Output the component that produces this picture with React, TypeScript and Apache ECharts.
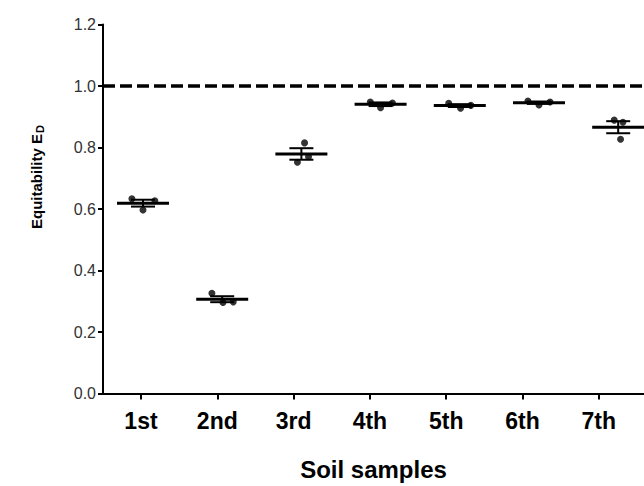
import React, { useEffect, useRef } from "react";
import * as echarts from "echarts";

const CATEGORIES = ["1st", "2nd", "3rd", "4th", "5th", "6th", "7th"];
const Y_TICKS = [0, 0.2, 0.4, 0.6, 0.8, 1.0, 1.2];
const REFERENCE_LINE = 1.0;

// replicate values per soil sample (3 each)
const S1 = [0.633, 0.597, 0.627];
const S2 = [0.326, 0.296, 0.298];
const S3 = [0.815, 0.752, 0.77];
const S4 = [0.948, 0.929, 0.945];
const S5 = [0.944, 0.928, 0.937];
const S6 = [0.951, 0.938, 0.948];
const S7 = [0.889, 0.882, 0.827];
const SAMPLES = [S1, S2, S3, S4, S5, S6, S7];

// horizontal scatter spread of replicates (category units)
const JITTER = [
  [-0.14, 0, 0.15],
  [-0.13, 0.01, 0.14],
  [0.04, -0.05, 0.09],
  [-0.13, 0, 0.15],
  [-0.14, 0.01, 0.14],
  [-0.14, 0, 0.14],
  [-0.05, 0.06, 0.03],
];

const FONT = "Liberation Sans, Arial, sans-serif";

function meanOf(a: number[]) {
  return a.reduce((s, v) => s + v, 0) / a.length;
}
function semOf(a: number[]) {
  const m = meanOf(a);
  const v = a.reduce((s, x) => s + (x - m) * (x - m), 0) / (a.length - 1);
  return Math.sqrt(v) / Math.sqrt(a.length);
}

export default function App() {
  const ref = useRef<HTMLDivElement>(null);
  useEffect(() => {
    if (!ref.current) return;
    const chart = echarts.init(ref.current, null, { renderer: "svg" });

    const points: number[][] = [];
    SAMPLES.forEach((arr, i) => {
      arr.forEach((v, j) => points.push([i + 1 + JITTER[i][j], v]));
    });
    const summary = SAMPLES.map((arr, i) => [i + 1, meanOf(arr), semOf(arr)]);

    chart.setOption({
      animation: false,
      backgroundColor: "#fff",
      grid: {
        left: 103,
        right: 0,
        top: 24.5,
        bottom: 92.5,
        containLabel: false,
        outerBoundsMode: "none",
      },
      xAxis: [
        {
          type: "value",
          min: 0.502,
          max: 7.592,
          position: "bottom",
          name: "Soil samples",
          nameLocation: "middle",
          nameGap: 64,
          nameTextStyle: {
            fontFamily: FONT,
            fontWeight: "bold",
            fontSize: 24,
            color: "#000",
          },
          axisLine: { show: true, lineStyle: { color: "#000", width: 2 } },
          axisTick: {
            show: true,
            customValues: [1, 2, 3, 4, 5, 6, 7],
            length: 6,
            lineStyle: { color: "#000", width: 2 },
          },
          axisLabel: {
            customValues: [1, 2, 3, 4, 5, 6, 7],
            formatter: (v: number) => CATEGORIES[Math.round(v) - 1] ?? "",
            fontFamily: FONT,
            fontWeight: "bold",
            fontSize: 23,
            color: "#000",
            margin: 16,
          },
          splitLine: { show: false },
        },
        {
          type: "value",
          min: 0.495,
          max: 7.326,
          show: false,
          splitLine: { show: false },
        },
      ],
      yAxis: {
        type: "value",
        min: Y_TICKS[0],
        max: Y_TICKS[Y_TICKS.length - 1],
        interval: 0.2,
        name: "{a|Equitability E}{b|D}",
        nameLocation: "middle",
        nameGap: 58,
        nameTextStyle: {
          fontFamily: FONT,
          fontWeight: "bold",
          fontSize: 15,
          color: "#000",
          padding: [0, 0, 0, 64],
          rich: {
            a: { fontFamily: FONT, fontWeight: "bold", fontSize: 15, color: "#000" },
            b: {
              fontFamily: FONT,
              fontWeight: "bold",
              fontSize: 11,
              color: "#000",
              padding: [7, 0, 0, 1],
            },
          },
        },
        axisLine: { show: true, lineStyle: { color: "#000", width: 2 } },
        axisTick: { show: true, length: 5, lineStyle: { color: "#000", width: 2 } },
        axisLabel: {
          formatter: (v: number) => v.toFixed(1),
          fontFamily: FONT,
          fontSize: 16,
          color: "#333",
          margin: 7,
        },
        splitLine: { show: false },
      },
      series: [
        {
          type: "scatter",
          xAxisIndex: 1,
          symbol: "circle",
          symbolSize: 7,
          itemStyle: { color: "#000" },
          data: points,
          z: 2,
          markLine: {
            silent: true,
            symbol: ["none", "none"],
            label: { show: false },
            lineStyle: { color: "#000", width: 3.5, type: [12, 5] },
            data: [{ yAxis: REFERENCE_LINE }],
          },
        },
        {
          type: "custom",
          xAxisIndex: 1,
          z: 3,
          data: summary,
          renderItem: (params: any, api: any) => {
            const x = api.value(0);
            const m = api.value(1);
            const s = api.value(2);
            const c = api.coord([x, m]);
            const hi = api.coord([x, m + s]);
            const lo = api.coord([x, m - s]);
            const st = { stroke: "#000", lineWidth: 2 };
            return {
              type: "group",
              children: [
                { type: "line", shape: { x1: c[0] - 26, y1: c[1], x2: c[0] + 26, y2: c[1] }, style: { stroke: "#000", lineWidth: 3 } },
                { type: "line", shape: { x1: c[0], y1: hi[1], x2: c[0], y2: lo[1] }, style: st },
                { type: "line", shape: { x1: c[0] - 12, y1: hi[1], x2: c[0] + 12, y2: hi[1] }, style: st },
                { type: "line", shape: { x1: c[0] - 12, y1: lo[1], x2: c[0] + 12, y2: lo[1] }, style: st },
              ],
            };
          },
        },
      ],
    });
    return () => chart.dispose();
  }, []);

  return (
    <div
      ref={ref}
      style={{ position: "absolute", left: 0, top: 0, width: 644, height: 486 }}
    />
  );
}
